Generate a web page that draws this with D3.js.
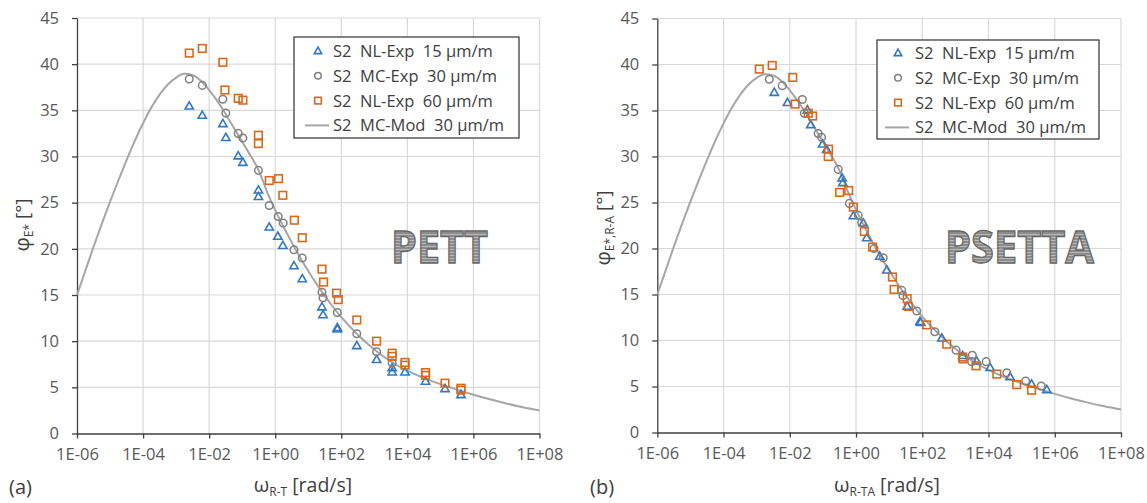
<!DOCTYPE html>
<html>
<head>
<meta charset="utf-8">
<script src="https://cdn.jsdelivr.net/npm/d3@7"></script>
<style>
  html, body { margin: 0; padding: 0; background: #fff; }
  svg { display: block; font-family: "Open Sans", "Noto Sans", sans-serif; }
  .pre { white-space: pre; }
</style>
</head>
<body>
<svg id="chart" width="1147" height="503"></svg>
<script>
// ---------------- DATA ----------------
const xTickVals   = [1e-6, 1e-4, 1e-2, 1, 1e2, 1e4, 1e6, 1e8];
const xTickLabels = ["1E-06","1E-04","1E-02","1E+00","1E+02","1E+04","1E+06","1E+08"];
const yTickVals   = [0, 5, 10, 15, 20, 25, 30, 35, 40, 45];

const seriesNames = ["S2  NL-Exp  15 \u00b5m/m", "S2  MC-Exp  30 \u00b5m/m", "S2  NL-Exp  60 \u00b5m/m", "S2  MC-Mod  30 \u00b5m/m"];

// model curve (same for both panels) : omega [rad/s], phi [deg]
const modelW   = [1e-6,1.78e-6,3.16e-6,5.62e-6,1e-5,1.78e-5,3.16e-5,5.62e-5,1e-4,1.78e-4,3.16e-4,5.62e-4,1e-3,1.78e-3,3.16e-3,5.62e-3,1e-2,1.78e-2,3.16e-2,5.62e-2,0.1,0.178,0.316,0.562,1,1.78,3.16,5.62,10,17.8,31.6,56.2,100,316,1e3,3.16e3,1e4,3.16e4,1e5,3.16e5,1e6,3.16e6,1e7,3.16e7,1e8];
const modelPhi = [15.0,17.6,20.2,22.7,25.1,27.4,29.6,31.7,33.6,35.3,36.7,37.8,38.55,38.95,38.8,38.2,37.2,36.0,34.6,33.1,31.6,30.1,28.5,26.2,24.2,22.4,20.7,19.1,17.6,16.2,14.9,13.7,12.6,10.7,9.1,7.8,6.8,6.0,5.35,4.75,4.2,3.7,3.25,2.85,2.5];

// Panel (a) PETT
const pettNL15 = [[2.5e-3,35.4],[6.2e-3,34.4],[2.6e-2,33.5],[3.2e-2,32.0],[7.6e-2,30.0],[0.105,29.3],[0.31,26.3],[0.31,25.6],[0.66,22.3],[1.2,21.3],[1.7,20.3],[3.7,18.1],[6.6,16.7],[26,13.65],[28,12.8],[76,11.4],[76,11.25],[295,9.45],[1175,7.95],[3470,7.05],[3470,6.6],[8500,6.6],[35500,5.6],[1.38e5,4.8],[4.2e5,4.15]];
const pettMC30 = [[2.5e-3,38.4],[6.2e-3,37.7],[2.6e-2,36.2],[3.2e-2,34.7],[7.6e-2,32.5],[0.105,32.0],[0.31,28.5],[0.66,24.7],[1.23,23.5],[1.74,22.8],[3.7,19.9],[6.6,19.0],[26,15.3],[28,14.7],[76,13.1],[295,10.8],[1175,8.85],[3470,7.65]];
const pettNL60 = [[2.5e-3,41.2],[6.2e-3,41.7],[2.6e-2,40.2],[3.0e-2,37.2],[7.6e-2,36.3],[0.105,36.1],[0.31,32.3],[0.31,31.4],[0.66,27.4],[1.26,27.6],[1.7,25.8],[3.8,23.1],[6.6,21.2],[26,17.8],[29,16.4],[72,15.2],[81,14.5],[295,12.3],[1175,10.0],[3470,8.7],[3470,8.35],[8500,7.7],[8500,7.4],[35500,6.6],[35500,6.3],[1.38e5,5.45],[4.2e5,4.9],[4.2e5,4.7]];

// Panel (b) PSETTA
const psettaNL15 = [[3.4e-3,36.9],[8.5e-3,35.8],[3.4e-2,35.0],[4.3e-2,33.4],[9.8e-2,31.3],[0.13,30.7],[0.38,27.6],[0.40,27.1],[0.83,23.5],[1.66,22.7],[2.1,21.1],[5.2,19.1],[8.5,17.6],[35,13.65],[85,12.0],[90,11.9],[390,10.2],[1660,8.3],[4400,7.7],[11200,7.0],[44700,6.0],[2.0e5,5.2],[5.75e5,4.6]];
const psettaMC30 = [[2.4e-3,38.4],[5.9e-3,37.7],[2.4e-2,36.2],[2.75e-2,34.7],[7.2e-2,32.5],[9.1e-2,32.1],[0.29,28.6],[0.63,24.9],[1.17,23.6],[1.48,22.8],[3.5,20.0],[6.6,19.0],[24,15.45],[26,14.9],[68,13.2],[240,10.95],[1050,8.95],[3240,8.4],[3100,7.7],[8500,7.7],[35500,6.5],[1.32e5,5.6],[3.9e5,5.05]];
const psettaNL60 = [[1.2e-3,39.5],[2.95e-3,39.9],[1.23e-2,38.6],[1.45e-2,35.7],[3.6e-2,34.7],[4.9e-2,34.4],[0.148,30.8],[0.145,30.0],[0.32,26.1],[0.60,26.3],[0.83,24.5],[1.78,21.85],[3.16,20.15],[12.6,16.9],[14.1,15.55],[35,14.55],[38,13.7],[135,11.7],[550,9.6],[1660,8.2],[1700,8.0],[4200,7.25],[17800,6.35],[71000,5.2],[2.0e5,4.6]];

// ---------------- DRAW ----------------
const svg = d3.select("#chart");
const C_BLUE = "#3478c0", C_GRAY = "#808080", C_ORANGE = "#d9681e", C_LINE = "#a6a6a6";
const C_AXIS = "#404040", C_GRID = "#d9d9d9", C_TEXT = "#404040";

// stripe pattern for the big labels
const defs = svg.append("defs");
const pat = defs.append("pattern").attr("id","stripes").attr("patternUnits","userSpaceOnUse")
  .attr("width",6).attr("height",3);
pat.append("rect").attr("width",6).attr("height",3).attr("fill","#8c8c8c");
pat.append("rect").attr("width",6).attr("height",1).attr("fill","#b8b8b8");

const panels = [
  { xr:[77,539.5], yr:[433.5,18], nl15:pettNL15, mc30:pettMC30, nl60:pettNL60,
    ySub:"E*", xSub:"R-T", tag:"(a)", tagX:9, big:"PETT", bigX:391, bigW:97,
    yTitleX:29, yTitleY:225, xTitleX:303, legend:{x:294,y:37,w:225,h:101,row0:51,mx:318,tx:333} },
  { xr:[657.3,1121], yr:[432.5,18.5], nl15:psettaNL15, mc30:psettaMC30, nl60:psettaNL60,
    ySub:"E*,R-A", xSub:"R-TA", tag:"(b)", tagX:590, big:"PSETTA", bigX:945, bigW:149,
    yTitleX:610, yTitleY:228, xTitleX:887, legend:{x:877,y:40,w:222,h:99,row0:53,mx:898,tx:915} }
];

panels.forEach(p => {
  const x = d3.scaleLog().domain([1e-6,1e8]).range(p.xr);
  const y = d3.scaleLinear().domain([0,45]).range(p.yr);
  const g = svg.append("g");

  // grid
  g.append("g").selectAll("line").data(yTickVals.filter(v=>v>0)).join("line")
    .attr("x1",p.xr[0]).attr("x2",p.xr[1]).attr("y1",d=>y(d)).attr("y2",d=>y(d))
    .attr("stroke",C_GRID).attr("stroke-width",1.2);
  g.append("g").selectAll("line").data(xTickVals.slice(1)).join("line")
    .attr("x1",d=>x(d)).attr("x2",d=>x(d)).attr("y1",y(0)).attr("y2",y(45))
    .attr("stroke",C_GRID).attr("stroke-width",1.2);

  // axes
  const ya = g.append("g").attr("transform",`translate(${p.xr[0]},0)`)
    .call(d3.axisLeft(y).tickValues(yTickVals).tickFormat(d3.format("d")).tickSize(5).tickSizeOuter(0).tickPadding(13));
  const xa = g.append("g").attr("transform",`translate(0,${y(0)})`)
    .call(d3.axisBottom(x).tickValues(xTickVals).tickFormat((d,i)=>xTickLabels[i]).tickSize(5).tickSizeOuter(0));
  [ya,xa].forEach(a=>{
    a.select(".domain").attr("stroke",C_AXIS).attr("stroke-width",1.3);
    a.selectAll(".tick line").attr("stroke",C_AXIS).attr("stroke-width",1.3);
    a.selectAll("text").attr("fill","#595959").style("font-size","16.5px").style("font-family","'Open Sans', sans-serif");
  });
  xa.selectAll("text").attr("dy",null).attr("y",26.5);

  // model line
  const line = d3.line().x((d,i)=>x(modelW[i])).y(d=>y(d)).curve(d3.curveMonotoneX);
  g.append("path").datum(modelPhi).attr("d",line).attr("fill","none")
    .attr("stroke",C_LINE).attr("stroke-width",2);

  // markers
  const tri = d3.symbol(d3.symbolTriangle, 30)();
  g.append("g").selectAll("path").data(p.nl15).join("path")
    .attr("d",tri).attr("transform",d=>`translate(${x(d[0])},${y(d[1])})`)
    .attr("fill","none").attr("stroke",C_BLUE).attr("stroke-width",1.6);
  g.append("g").selectAll("circle").data(p.mc30).join("circle")
    .attr("cx",d=>x(d[0])).attr("cy",d=>y(d[1])).attr("r",3.8)
    .attr("fill","none").attr("stroke",C_GRAY).attr("stroke-width",1.5);
  g.append("g").selectAll("rect").data(p.nl60).join("rect")
    .attr("x",d=>x(d[0])-3.8).attr("y",d=>y(d[1])-3.8).attr("width",7.6).attr("height",7.6)
    .attr("fill","none").attr("stroke",C_ORANGE).attr("stroke-width",1.6);

  // big label
  g.append("text").attr("x",p.bigX).attr("y",263).text(p.big)
    .attr("textLength",p.bigW).attr("lengthAdjust","spacingAndGlyphs")
    .style("font-size","44px").style("font-weight","700")
    .attr("fill","url(#stripes)").attr("stroke","#666").attr("stroke-width",1.3);

  // legend
  const L = p.legend;
  const lg = g.append("g");
  lg.append("rect").attr("x",L.x).attr("y",L.y).attr("width",L.w).attr("height",L.h)
    .attr("fill","#fff").attr("stroke",C_AXIS).attr("stroke-width",1.3);
  const rows = seriesNames.map((s,i)=>({s, cy:L.row0 + i*24.8, i}));
  rows.forEach(r=>{
    if (r.i===0) lg.append("path").attr("d",d3.symbol(d3.symbolTriangle,24)())
      .attr("transform",`translate(${L.mx},${r.cy+0.5})`).attr("fill","none").attr("stroke",C_BLUE).attr("stroke-width",1.6);
    if (r.i===1) lg.append("circle").attr("cx",L.mx).attr("cy",r.cy).attr("r",3.3)
      .attr("fill","none").attr("stroke",C_GRAY).attr("stroke-width",1.5);
    if (r.i===2) lg.append("rect").attr("x",L.mx-3.3).attr("y",r.cy-3.3).attr("width",6.6).attr("height",6.6)
      .attr("fill","none").attr("stroke",C_ORANGE).attr("stroke-width",1.6);
    if (r.i===3) lg.append("line").attr("x1",L.mx-13).attr("x2",L.mx+11).attr("y1",r.cy).attr("y2",r.cy)
      .attr("stroke",C_LINE).attr("stroke-width",2);
    lg.append("text").attr("class","pre").attr("x",L.tx).attr("y",r.cy+6).text(r.s)
      .attr("fill",C_TEXT).style("font-size","16.5px");
  });

  // y title
  const yt = g.append("text").attr("transform",`translate(${p.yTitleX},${p.yTitleY}) rotate(-90)`)
    .attr("text-anchor","middle").attr("fill",C_TEXT);
  yt.append("tspan").text("\u03c6").style("font-size","20px");
  yt.append("tspan").text(p.ySub).style("font-size","12px").attr("dy",4);
  yt.append("tspan").attr("class","pre").text(" [\u00b0]").style("font-size","19px").attr("dy",-4);

  // x title
  const xt = g.append("text").attr("x",p.xTitleX).attr("y",492).attr("text-anchor","middle").attr("fill",C_TEXT);
  xt.append("tspan").text("\u03c9").style("font-size","20px");
  xt.append("tspan").text(p.xSub).style("font-size","12px").attr("dy",4);
  xt.append("tspan").attr("class","pre").text(" [rad/s]").style("font-size","19.5px").attr("dy",-4);

  // panel tag
  g.append("text").attr("x",p.tagX).attr("y",494).text(p.tag).attr("fill",C_TEXT).style("font-size","20px");
});
</script>
</body>
</html>
